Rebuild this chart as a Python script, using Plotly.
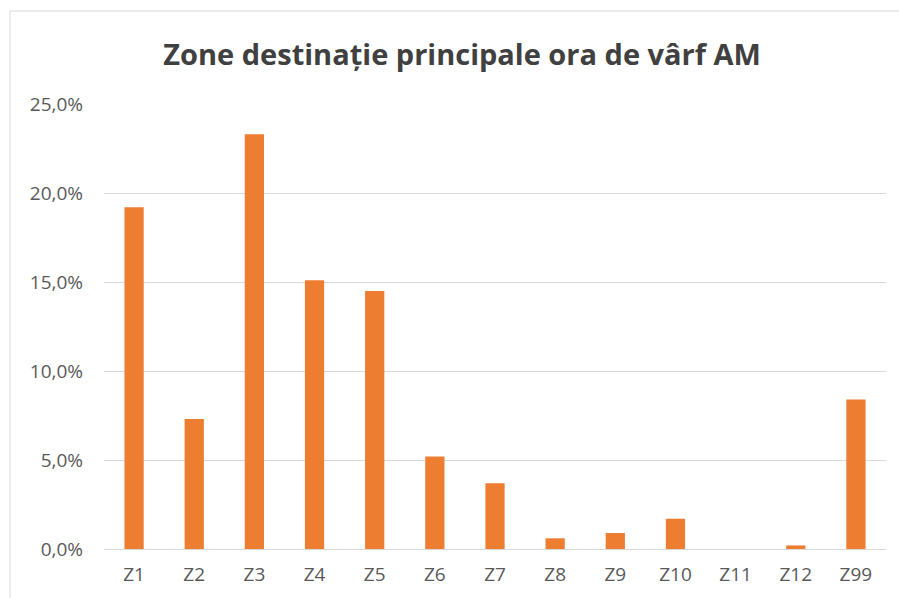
import plotly.graph_objects as go

zones = ["Z1", "Z2", "Z3", "Z4", "Z5", "Z6", "Z7", "Z8", "Z9", "Z10", "Z11", "Z12", "Z99"]
share_pct = [19.2, 7.3, 23.3, 15.1, 14.5, 5.2, 3.7, 0.6, 0.9, 1.7, 0.0, 0.2, 8.4]
y_ticks = [0, 5, 10, 15, 20, 25]
y_tick_labels = ["0,0%", "5,0%", "10,0%", "15,0%", "20,0%", "25,0%"]

label_font = dict(family="Open Sans", size=19, color="#595959")

fig = go.Figure(
    go.Bar(
        x=zones,
        y=share_pct,
        marker=dict(color="#ED7D31", line=dict(width=0)),
    )
)

fig.update_layout(
    template="none",
    width=899,
    height=598,
    margin=dict(l=104, r=13, t=104, b=49),
    paper_bgcolor="white",
    plot_bgcolor="white",
    bargap=0.68,
    showlegend=False,
    font=label_font,
    title=dict(
        text="<b>Zone destinație principale ora de vârf AM</b>",
        x=0.514,
        xanchor="center",
        y=0.908,
        yanchor="middle",
        font=dict(family="Open Sans", size=29, color="#404040"),
    ),
    xaxis=dict(
        showgrid=False,
        showline=True,
        linecolor="#d9d9d9",
        linewidth=1,
        ticks="",
        tickfont=label_font,
        ticklabelstandoff=8,
    ),
    yaxis=dict(
        range=[0, 25],
        tickmode="array",
        tickvals=y_ticks,
        ticktext=y_tick_labels,
        tickfont=label_font,
        showgrid=True,
        gridcolor="#d9d9d9",
        gridwidth=1,
        zeroline=False,
        showline=False,
        ticks="",
        ticklabelstandoff=20,
    ),
    shapes=[
        dict(
            type="rect",
            xref="paper",
            yref="paper",
            x0=-0.1202,
            x1=1.03,
            y0=-0.14,
            y1=1.209,
            line=dict(color="#d9d9d9", width=1),
            fillcolor="rgba(0,0,0,0)",
            layer="below",
        )
    ],
)

fig.write_html("out.html")
